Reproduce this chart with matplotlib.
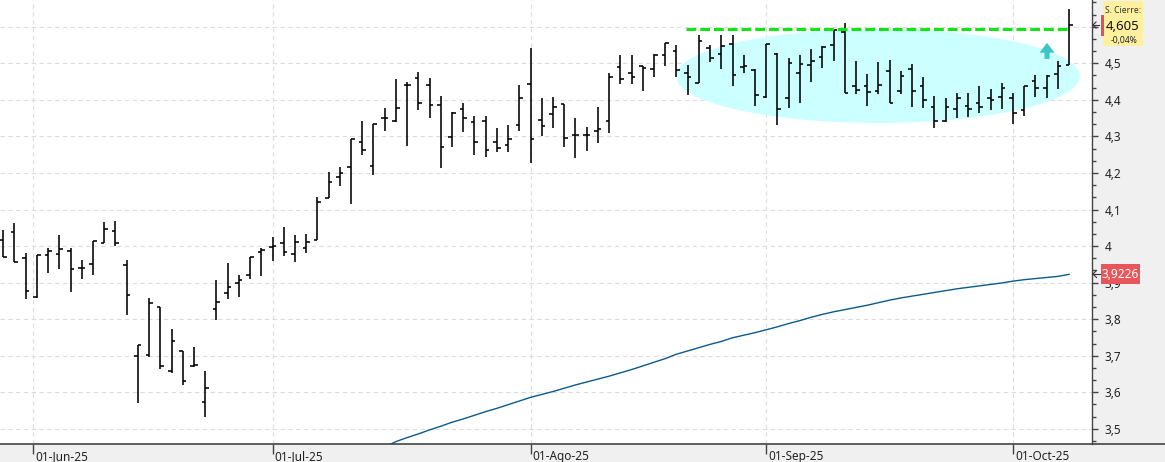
import matplotlib
matplotlib.use('Agg')
import matplotlib.pyplot as plt
import numpy as np
import pandas as pd
from matplotlib.patches import Ellipse, Rectangle, FancyArrow
from matplotlib.ticker import MultipleLocator, FuncFormatter
from matplotlib.lines import Line2D

# ---------------- data ----------------
dates = pd.bdate_range('2025-05-28', '2025-10-08')

opens = [4.017, 4.038, 3.966, 3.861, 3.976, 3.978, 3.986, 3.939, 3.951, 4.009,
         4.041, 3.947, 3.699, 3.701, 3.832, 3.659, 3.713, 3.672, 3.573, 3.828,
         3.871, 3.900, 3.921, 3.985, 3.998, 4.008, 3.977, 3.994, 4.017, 4.132,
         4.190, 4.215, 4.285, 4.218, 4.350, 4.341, 4.441, 4.459, 4.440, 4.385,
         4.299, 4.374, 4.339, 4.341, 4.284, 4.276, 4.330, 4.443, 4.344, 4.360,
         4.388, 4.303, 4.303, 4.316, 4.342, 4.489, 4.474, 4.493, 4.484, 4.522,
         4.534, 4.473, 4.445, 4.541, 4.525, 4.552, 4.491, 4.482, 4.409, 4.525,
         4.404, 4.473, 4.495, 4.518, 4.550, 4.585, 4.438, 4.439, 4.425, 4.480,
         4.425, 4.484, 4.438, 4.380, 4.342, 4.374, 4.383, 4.391, 4.404, 4.407,
         4.404, 4.372, 4.452, 4.432, 4.470, 4.495]
highs = [4.044, 4.062, 3.980, 3.976, 3.994, 4.030, 3.994, 3.962, 4.014, 4.065,
         4.069, 3.962, 3.728, 3.857, 3.832, 3.772, 3.714, 3.725, 3.658, 3.907,
         3.954, 3.921, 3.971, 3.995, 4.024, 4.051, 4.030, 4.033, 4.133, 4.203,
         4.215, 4.293, 4.342, 4.334, 4.377, 4.457, 4.450, 4.475, 4.459, 4.411,
         4.368, 4.391, 4.356, 4.356, 4.322, 4.331, 4.441, 4.541, 4.404, 4.407,
         4.389, 4.350, 4.325, 4.380, 4.474, 4.523, 4.523, 4.493, 4.525, 4.555,
         4.550, 4.495, 4.577, 4.550, 4.577, 4.577, 4.523, 4.484, 4.552, 4.527,
         4.514, 4.523, 4.538, 4.547, 4.591, 4.611, 4.506, 4.471, 4.504, 4.509,
         4.480, 4.497, 4.462, 4.411, 4.406, 4.418, 4.418, 4.438, 4.429, 4.447,
         4.420, 4.438, 4.468, 4.468, 4.506, 4.648]
lows = [3.971, 3.955, 3.854, 3.857, 3.927, 3.937, 3.875, 3.910, 3.921, 4.008,
        4.001, 3.811, 3.571, 3.697, 3.663, 3.652, 3.619, 3.670, 3.533, 3.797,
        3.854, 3.860, 3.909, 3.918, 3.960, 3.974, 3.957, 3.982, 4.017, 4.131,
        4.164, 4.115, 4.250, 4.194, 4.315, 4.340, 4.274, 4.372, 4.351, 4.214,
        4.272, 4.313, 4.249, 4.244, 4.258, 4.258, 4.316, 4.226, 4.301, 4.324,
        4.272, 4.242, 4.261, 4.281, 4.308, 4.443, 4.443, 4.425, 4.462, 4.493,
        4.462, 4.413, 4.445, 4.504, 4.484, 4.438, 4.474, 4.383, 4.404, 4.331,
        4.377, 4.392, 4.450, 4.488, 4.506, 4.418, 4.416, 4.383, 4.415, 4.391,
        4.416, 4.381, 4.377, 4.322, 4.340, 4.350, 4.354, 4.363, 4.372, 4.374,
        4.334, 4.356, 4.409, 4.406, 4.429, 4.495]
closes = [3.971, 3.955, 3.877, 3.976, 3.986, 3.991, 3.936, 3.941, 4.014, 4.046,
          4.009, 3.865, 3.728, 3.843, 3.672, 3.739, 3.631, 3.675, 3.611, 3.846,
          3.887, 3.907, 3.971, 3.988, 4.000, 3.983, 4.010, 4.010, 4.121, 4.176,
          4.201, 4.292, 4.263, 4.334, 4.350, 4.377, 4.441, 4.391, 4.385, 4.270,
          4.363, 4.350, 4.284, 4.262, 4.267, 4.292, 4.404, 4.293, 4.329, 4.381,
          4.295, 4.303, 4.303, 4.319, 4.462, 4.456, 4.462, 4.486, 4.523, 4.555,
          4.482, 4.463, 4.561, 4.514, 4.547, 4.468, 4.493, 4.412, 4.552, 4.375,
          4.500, 4.497, 4.506, 4.545, 4.591, 4.420, 4.427, 4.422, 4.441, 4.391,
          4.465, 4.424, 4.400, 4.342, 4.381, 4.404, 4.374, 4.380, 4.400, 4.432,
          4.365, 4.438, 4.432, 4.466, 4.493, 4.605]

# moving average (last 62 sessions)
ma_values = [3.450, 3.465, 3.476, 3.486, 3.497, 3.507, 3.518, 3.527, 3.537, 3.547,
             3.556, 3.566, 3.576, 3.586, 3.594, 3.602, 3.611, 3.620, 3.628, 3.636,
             3.644, 3.653, 3.662, 3.672, 3.682, 3.692, 3.704, 3.713, 3.722, 3.731,
             3.739, 3.749, 3.756, 3.763, 3.771, 3.779, 3.788, 3.796, 3.805, 3.813,
             3.820, 3.826, 3.832, 3.838, 3.845, 3.852, 3.858, 3.863, 3.868, 3.873,
             3.878, 3.883, 3.887, 3.891, 3.895, 3.899, 3.904, 3.908, 3.911, 3.914,
             3.917, 3.9226]

month_labels = ["01-Jun-25", "01-Jul-25", "01-Ago-25", "01-Sep-25", "01-Oct-25"]
resistance = 4.595
last_close_text = "4,605"
change_text = "-0,04%"
ma_last_text = "3,9226"

# ---------------- figure ----------------
W, H = 1165, 462
fig = plt.figure(figsize=(W / 100, H / 100), dpi=100)
fig.patch.set_facecolor('#F0F0F0')
plt.rcParams['font.family'] = ['Noto Sans', 'DejaVu Sans']

ax = fig.add_axes([0, 18 / H, 1092 / W, 444 / H])
ax.set_facecolor('white')

x = np.arange(len(dates))

# month ticks: first session of each month
month_pos = []
for m in [6, 7, 8, 9, 10]:
    idx = np.where(dates.month == m)[0][0]
    pos = idx - (0.33 if dates[idx].day != 1 else 0.0)
    month_pos.append(pos)

ax.set_xlim(-0.29, 97.04)
ax.set_ylim(3.4584, 4.6732)

ax.set_xticks(month_pos)
ax.set_xticklabels([])
ax.tick_params(axis='x', length=7, direction='out', color='#444444', width=1)

ax.set_yticks(np.round(np.arange(3.5, 4.65, 0.1), 2))
ax.yaxis.set_minor_locator(MultipleLocator(0.1 / 3))
ax.yaxis.tick_right()


def fmt(v, pos):
    if v > 4.58:          # hidden beneath the last-close box
        return ""
    s = f"{v:.1f}".replace('.', ',')
    if s.endswith(',0'):
        s = s[:-2]
    return s


ax.yaxis.set_major_formatter(FuncFormatter(fmt))
ax.tick_params(axis='y', which='major', length=4, color='#444444', width=1,
               labelsize=8.5, pad=5, labelcolor='#222222')
ax.tick_params(axis='y', which='minor', length=3, color='#444444', width=1)

ax.grid(True, which='major', color='#DCDCDC', linestyle=(0, (4, 3)), linewidth=0.8)
ax.set_axisbelow(True)

for s in ['left', 'top', 'bottom']:
    ax.spines[s].set_visible(False)
ax.spines['right'].set_color('#444444')
ax.spines['right'].set_linewidth(1)

# ellipse highlight
ax.add_patch(Ellipse((77.96, 4.465), width=36.0, height=0.257,
                     facecolor='#CCFFFF', edgecolor='none', zorder=1))

# moving average
ax.plot(x[-len(ma_values):], ma_values, color='#0B5A8C', lw=1.0, zorder=2)

# OHLC bars
tw = 0.32
ax.vlines(x, lows, highs, color='black', lw=1.15, zorder=3)
ax.hlines(opens, x - tw, x, color='black', lw=1.15, zorder=3)
ax.hlines(closes, x, x + tw, color='black', lw=1.15, zorder=3)

# resistance line
ax.hlines(resistance, 60.85, 94.9, colors='#11E611', lw=2.2,
          linestyles=[(0, (3.2, 1.3))], zorder=4)

# cyan arrow
ax.add_patch(FancyArrow(93.03, 4.512, 0, 0.044, width=0.45, head_width=1.34,
                        head_length=0.027, length_includes_head=True,
                        facecolor='#3CC6C6', edgecolor='none', zorder=4))

# month labels in bottom strip
for p, lab in zip(month_pos, month_labels):
    ax.text(p + 0.2, -0.0282, lab, transform=ax.get_xaxis_transform(),
            ha='left', va='center', fontsize=8.5, color='#222222', clip_on=False)

# full-width bottom axis line
fig.add_artist(Line2D([0, 1], [18 / H, 18 / H], color='#444444', lw=1.2,
                      transform=fig.transFigure))


def fx(px):
    return px / W


def fy(py):
    return 1 - py / H


# last close box
fig.add_artist(Rectangle((fx(1103), fy(46)), 40 / W, 45 / H, facecolor='#FFF0A0',
                         edgecolor='none', transform=fig.transFigure, zorder=5))
fig.add_artist(Rectangle((fx(1100.5), fy(36)), 3.5 / W, 21 / H, facecolor='#E0505A',
                         edgecolor='none', transform=fig.transFigure, zorder=6))
fig.text(fx(1123), fy(10.5), "S. Cierre:", ha='center', va='center', fontsize=6.2,
         color='#333333', zorder=7)
fig.text(fx(1106), fy(26), last_close_text, ha='left', va='center', fontsize=9.5,
         color='#111111', zorder=7)
fig.text(fx(1124), fy(40.5), change_text, ha='center', va='center', fontsize=6.2,
         color='#222222', zorder=7)
fig.add_artist(Line2D([fx(1093), fx(1099)], [fy(25), fy(25)], color='#333333',
                      lw=0.8, transform=fig.transFigure, zorder=7))
fig.add_artist(Line2D([fx(1096), fx(1093), fx(1096)], [fy(22), fy(25), fy(28)],
                      color='#333333', lw=0.8, transform=fig.transFigure, zorder=7))

# MA label box
fig.add_artist(Rectangle((fx(1101), fy(284)), 39 / W, 20 / H, facecolor='#E8555A',
                         edgecolor='none', transform=fig.transFigure, zorder=5))
fig.text(fx(1120.5), fy(274), ma_last_text, ha='center', va='center', fontsize=8.5,
         color='white', zorder=7)
fig.add_artist(Line2D([fx(1093), fx(1100)], [fy(274), fy(274)], color='#333333',
                      lw=0.8, transform=fig.transFigure, zorder=7))
fig.add_artist(Line2D([fx(1096.5), fx(1093), fx(1096.5)], [fy(270.5), fy(274), fy(277.5)],
                      color='#333333', lw=0.8, transform=fig.transFigure, zorder=7))

fig.savefig('out.png', dpi=100, facecolor=fig.get_facecolor())
